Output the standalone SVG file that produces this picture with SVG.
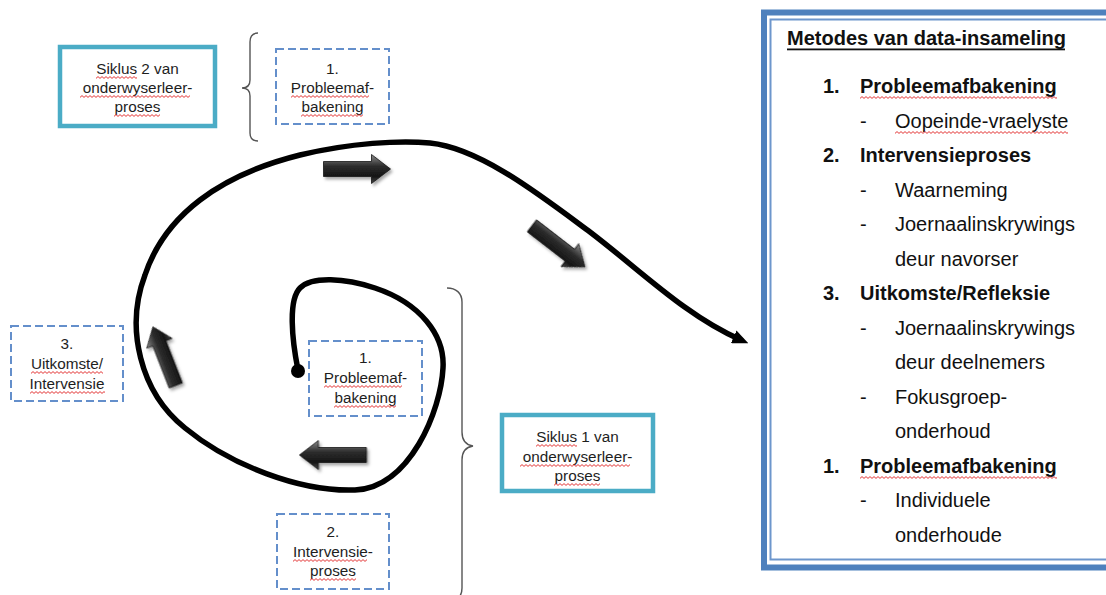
<svg xmlns="http://www.w3.org/2000/svg" width="1106" height="595" viewBox="0 0 1106 595">
  <defs>
    <style>
      .cycle { fill: #fff; stroke: #4bacc6; stroke-width: 4.5; }
      .step { fill: #fff; stroke: #648fcb; stroke-width: 2; stroke-dasharray: 8 4; }
      .lbl { font-family: "Liberation Sans", Arial, sans-serif; font-size: 15.3px; fill: #1e1e1e; text-anchor: middle; }
      .panel-txt { font-family: "Liberation Sans", Arial, sans-serif; font-size: 20px; fill: #111; }
      .b { font-weight: bold; }
      .brace { fill: none; stroke: #555; stroke-width: 1.4; }
      .spiral { fill: none; stroke: #000; stroke-width: 5.5; stroke-linecap: round; stroke-linejoin: round; }
      .blk { fill: url(#blkGrad); stroke: #151515; stroke-width: 0.8; }
      .sq { fill: url(#squiggle); }
    </style>
    <linearGradient id="blkGrad" x1="0" y1="0" x2="0" y2="1">
      <stop offset="0" stop-color="#8c8c8c"/>
      <stop offset="0.4" stop-color="#2c2c2c"/>
      <stop offset="0.75" stop-color="#161616"/>
      <stop offset="1" stop-color="#474747"/>
    </linearGradient>
    <filter id="shadow" x="-20%" y="-20%" width="150%" height="150%">
      <feDropShadow dx="2" dy="2.5" stdDeviation="1.5" flood-color="#000" flood-opacity="0.35"/>
    </filter>
    <pattern id="squiggle" width="4" height="3" patternUnits="userSpaceOnUse">
      <path d="M0 2.4 L2 0.6 L4 2.4" fill="none" stroke="#e02020" stroke-width="0.9"/>
    </pattern>
    <path id="blockArrow" class="blk" d="M-33,-7.5 H15 V-14.5 L34,0 L15,14.5 V7.5 H-33 Z"/>
    <marker id="head" markerUnits="userSpaceOnUse" viewBox="0 0 16 14" refX="8" refY="7" markerWidth="16" markerHeight="14" orient="auto">
      <path d="M0,0 L16,7 L0,14 Z" fill="#000"/>
    </marker>
  </defs>

  <rect width="1106" height="595" fill="#fff"/>

  <!-- braces grouping the cycle steps -->
  <g id="braces">
    <path class="brace" d="M258,33 C252,33 250,36 250,42 L250,80 C250,85 247,88 242,88 C247,88 250,91 250,96 L250,133 C250,138 252,141 258,141"/>
    <path class="brace" d="M447,288 C456,288 462,293 462,302 L462,432 C462,441 466,445 473,446 C466,447 462,451 462,460 L462,588 C462,596 458,600 450,600"/>
  </g>

  <!-- spiral path and direction arrows -->
  <g id="connectors">
    <path class="spiral" marker-end="url(#head)" d="M298,370 C292,340 288,300 300,288 C312,276 345,278 375,288 C420,303 445,335 443,368 C441,410 410,488 355,490 C300,492 230,465 185,428 C140,392 125,328 145,275 C165,215 220,175 300,155 C350,143 400,140 430,143 C480,148 540,195 590,232 C640,270 686,316 741,340"/>
    <circle cx="298" cy="371" r="7" fill="#000"/>
    <g filter="url(#shadow)">
      <use href="#blockArrow" transform="translate(356.5,169)"/>
      <use href="#blockArrow" transform="translate(558,246) rotate(37.7)"/>
      <use href="#blockArrow" transform="translate(333.5,455) scale(-1,1)"/>
      <use href="#blockArrow" transform="translate(164.5,356.5) rotate(-111.3) scale(0.94)"/>
    </g>
  </g>

  <g id="cycle2">
    <rect class="cycle" x="60" y="47" width="155" height="79"/>
    <text class="lbl" x="137.5" y="74">Siklus 2 van</text>
    <text class="lbl" x="137.5" y="93">onderwyserleer-</text>
    <text class="lbl" x="137.5" y="112">proses</text>
    <rect class="sq" transform="translate(96,76)" width="41" height="3"/>
    <rect class="sq" transform="translate(80,95)" width="110" height="3"/>
    <rect class="sq" transform="translate(114,114)" width="46" height="3"/>
  </g>

  <g id="step-top">
    <rect class="step" x="276" y="49" width="113" height="75"/>
    <text class="lbl" x="332.5" y="74">1.</text>
    <text class="lbl" x="332.5" y="93">Probleemaf-</text>
    <text class="lbl" x="332.5" y="112">bakening</text>
    <rect class="sq" transform="translate(291,95)" width="78" height="3"/>
    <rect class="sq" transform="translate(301,114)" width="62" height="3"/>
  </g>

  <g id="step-centre">
    <rect class="step" x="309" y="341" width="113" height="75"/>
    <text class="lbl" x="365.5" y="363">1.</text>
    <text class="lbl" x="365.5" y="383">Probleemaf-</text>
    <text class="lbl" x="365.5" y="403">bakening</text>
    <rect class="sq" transform="translate(324,385)" width="78" height="3"/>
    <rect class="sq" transform="translate(334,405)" width="62" height="3"/>
  </g>

  <g id="step-left">
    <rect class="step" x="11" y="326" width="112" height="75"/>
    <text class="lbl" x="67" y="349">3.</text>
    <text class="lbl" x="67" y="369">Uitkomste/</text>
    <text class="lbl" x="67" y="389">Intervensie</text>
    <rect class="sq" transform="translate(31,371)" width="72" height="3"/>
    <rect class="sq" transform="translate(30,391)" width="75" height="3"/>
  </g>

  <g id="step-bottom">
    <rect class="step" x="277" y="514" width="112" height="75"/>
    <text class="lbl" x="333" y="537">2.</text>
    <text class="lbl" x="333" y="557">Intervensie-</text>
    <text class="lbl" x="333" y="576">proses</text>
    <rect class="sq" transform="translate(293,559)" width="74" height="3"/>
    <rect class="sq" transform="translate(310,578)" width="46" height="3"/>
  </g>

  <g id="cycle1">
    <rect class="cycle" x="502" y="415" width="151" height="76"/>
    <text class="lbl" x="577.5" y="442">Siklus 1 van</text>
    <text class="lbl" x="577.5" y="462">onderwyserleer-</text>
    <text class="lbl" x="577.5" y="481">proses</text>
    <rect class="sq" transform="translate(536,444)" width="41" height="3"/>
    <rect class="sq" transform="translate(520,464)" width="110" height="3"/>
    <rect class="sq" transform="translate(554,483)" width="46" height="3"/>
  </g>

  <!-- data collection methods panel -->
  <g id="methods">
    <rect x="764" y="12.5" width="360" height="555" fill="#fff" stroke="#4f81bd" stroke-width="6"/>
    <rect x="770.5" y="19.5" width="350" height="540" fill="none" stroke="#6d96cc" stroke-width="2"/>
    <text class="panel-txt b" x="787" y="45">Metodes van data-insameling</text>
    <rect x="787" y="48.5" width="278" height="1.8" fill="#111"/>

    <text class="panel-txt b" x="823" y="93">1.</text>
    <text class="panel-txt b" x="860" y="93">Probleemafbakening</text>
    <rect class="sq" transform="translate(860,96)" width="197" height="3"/>
    <text class="panel-txt" x="860" y="127.5">-</text>
    <text class="panel-txt" x="895" y="127.5">Oopeinde-vraelyste</text>
    <rect class="sq" transform="translate(895,131)" width="173" height="3"/>

    <text class="panel-txt b" x="823" y="162">2.</text>
    <text class="panel-txt b" x="860" y="162">Intervensieproses</text>
    <text class="panel-txt" x="860" y="196.5">-</text>
    <text class="panel-txt" x="895" y="196.5">Waarneming</text>
    <text class="panel-txt" x="860" y="231">-</text>
    <text class="panel-txt" x="895" y="231">Joernaalinskrywings</text>
    <text class="panel-txt" x="895" y="265.5">deur navorser</text>

    <text class="panel-txt b" x="823" y="300">3.</text>
    <text class="panel-txt b" x="860" y="300">Uitkomste/Refleksie</text>
    <text class="panel-txt" x="860" y="334.5">-</text>
    <text class="panel-txt" x="895" y="334.5">Joernaalinskrywings</text>
    <text class="panel-txt" x="895" y="369">deur deelnemers</text>
    <text class="panel-txt" x="860" y="403.5">-</text>
    <text class="panel-txt" x="895" y="403.5">Fokusgroep-</text>
    <text class="panel-txt" x="895" y="438">onderhoud</text>

    <text class="panel-txt b" x="823" y="472.5">1.</text>
    <text class="panel-txt b" x="860" y="472.5">Probleemafbakening</text>
    <rect class="sq" transform="translate(860,476)" width="197" height="3"/>
    <text class="panel-txt" x="860" y="507">-</text>
    <text class="panel-txt" x="895" y="507">Individuele</text>
    <text class="panel-txt" x="895" y="541.5">onderhoude</text>
  </g>
</svg>
